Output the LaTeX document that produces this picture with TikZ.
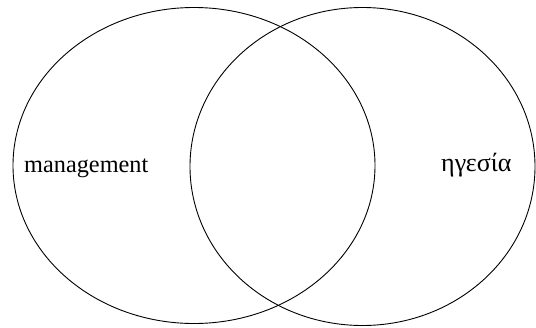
\documentclass[tikz,border=0pt]{standalone}
\usepackage{fontspec}
\setmainfont{Liberation Serif}
\begin{document}
\begin{tikzpicture}[x=1pt,y=-1pt,
  venn/.style={draw=black,line width=0.9pt},
  lbl/.style={inner sep=0pt,anchor=west}]
\useasboundingbox (0,0) rectangle (536,327);
\fill[white] (0,0) rectangle (536,327);
\draw[venn] (194,165.5) ellipse [x radius=181, y radius=158];
\draw[venn] (362.5,166.5) ellipse [x radius=172.5, y radius=159];
\node[lbl,font=\fontsize{24.3}{28}\selectfont] (m) at (24,168) {management};
\node[lbl,font=\fontsize{26}{30}\selectfont] (h) at (441,165) {ηγεσία};
\end{tikzpicture}
\end{document}
